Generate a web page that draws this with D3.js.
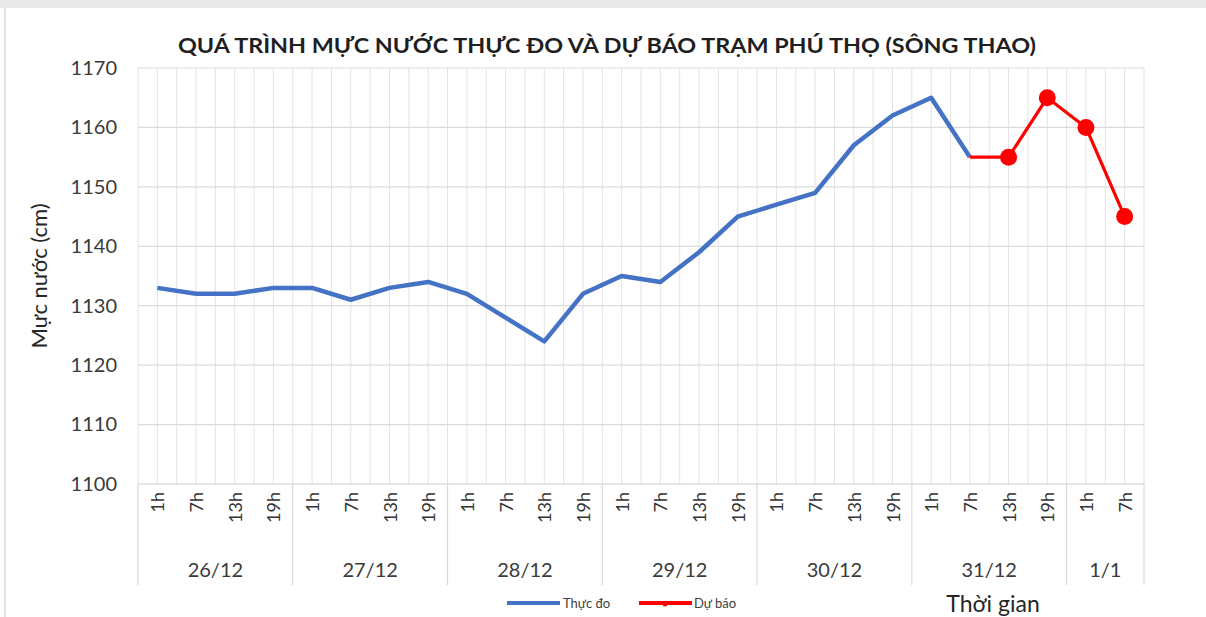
<!DOCTYPE html>
<html>
<head>
<meta charset="utf-8">
<script src="https://cdn.jsdelivr.net/npm/d3@7"></script>
<style>
  body { margin: 0; background: #fff; }
  svg { display: block; font-family: Lato, "Open Sans", sans-serif; }
</style>
</head>
<body>
<svg id="chart"></svg>
<script>
// data
var days = ["26/12", "27/12", "28/12", "29/12", "30/12", "31/12", "1/1"];
var hoursPerDay = [["1h", "7h", "13h", "19h"], ["1h", "7h", "13h", "19h"], ["1h", "7h", "13h", "19h"],
                   ["1h", "7h", "13h", "19h"], ["1h", "7h", "13h", "19h"], ["1h", "7h", "13h", "19h"], ["1h", "7h"]];
var observed = [1133, 1132, 1132, 1133, 1133, 1131, 1133, 1134, 1132, 1128, 1124, 1132,
                1135, 1134, 1139, 1145, 1147, 1149, 1157, 1162, 1165, 1155];
var forecastStart = 21; // 31/12 7h
var forecast = [1155, 1155, 1165, 1160, 1145];
var yTicks = [1100, 1110, 1120, 1130, 1140, 1150, 1160, 1170];

var W = 1206, H = 617;
var margin = {top: 68, left: 138, right: 62, bottom: 133};
var plotW = W - margin.left - margin.right;
var plotH = H - margin.top - margin.bottom;

// flat category list
var cats = [];
days.forEach(function (d, i) {
    hoursPerDay[i].forEach(function (h) { cats.push({day: d, hour: h, key: d + "-" + h}); });
});

var svg = d3.select("#chart").attr("width", W).attr("height", H);

// frame like the screenshot
svg.append("rect").attr("x", 0).attr("y", 0).attr("width", W).attr("height", 8).attr("fill", "#e9e9e9");
svg.append("line").attr("x1", 5).attr("x2", 5).attr("y1", 8).attr("y2", H).attr("stroke", "#e2e2e2").attr("stroke-width", 2);

var g = svg.append("g").attr("transform", "translate(" + margin.left + "," + margin.top + ")");

var x = d3.scaleBand().domain(cats.map(function (c) { return c.key; })).range([0, plotW]);
var y = d3.scaleLinear().domain([1100, 1170]).range([plotH, 0]);
var bw = x.bandwidth();

// vertical gridlines: category centres and boundaries
cats.forEach(function (c, i) {
    var xs = [x(c.key), x(c.key) + bw / 2];
    if (i === cats.length - 1) xs.push(x(c.key) + bw);
    xs.forEach(function (xv) {
        g.append("line").attr("x1", xv).attr("x2", xv).attr("y1", 0).attr("y2", plotH)
            .attr("stroke", "#e3e3e3").attr("stroke-width", 1);
    });
});

// horizontal gridlines
g.selectAll(".hgrid").data(yTicks).enter().append("line")
    .attr("x1", 0).attr("x2", plotW)
    .attr("y1", function (d) { return y(d); }).attr("y2", function (d) { return y(d); })
    .attr("stroke", function (d) { return d === 1100 ? "#cfcfcf" : "#dcdcdc"; })
    .attr("stroke-width", 1.2);

// y axis labels
var yAxis = g.append("g").call(d3.axisLeft(y).tickValues(yTicks).tickSize(0).tickPadding(21).tickFormat(d3.format("d")));
yAxis.select(".domain").remove();
yAxis.selectAll("text").attr("font-size", 20).attr("fill", "#3a3a3a").attr("font-family", "Lato, sans-serif");

g.append("text")
    .attr("transform", "translate(" + (38 - margin.left) + "," + (plotH / 2) + ") rotate(-90)")
    .attr("text-anchor", "middle").attr("dominant-baseline", "central")
    .attr("font-size", 22).attr("fill", "#262626")
    .text("Mực nước (cm)");

// multi-level category axis
var axisG = g.append("g").attr("transform", "translate(0," + plotH + ")");
cats.forEach(function (c) {
    axisG.append("text")
        .attr("transform", "translate(" + (x(c.key) + bw / 2) + ",8) rotate(-90)")
        .attr("text-anchor", "end").attr("dominant-baseline", "central")
        .attr("font-size", 18).attr("fill", "#333")
        .text(c.hour);
});
var startIdx = 0;
var bounds = [0];
days.forEach(function (d, i) {
    var n = hoursPerDay[i].length;
    var x0 = x(cats[startIdx].key);
    var x1 = x(cats[startIdx + n - 1].key) + bw;
    bounds.push(x1);
    axisG.append("text")
        .attr("x", (x0 + x1) / 2).attr("y", 93)
        .attr("text-anchor", "middle")
        .attr("font-size", 20).attr("fill", "#3a3a3a")
        .text(d);
    startIdx += n;
});
bounds.forEach(function (b) {
    axisG.append("line").attr("x1", b).attr("x2", b).attr("y1", 0).attr("y2", 101)
        .attr("stroke", "#d9d9d9").attr("stroke-width", 1.2);
});

// lines
var line = d3.line()
    .x(function (d) { return x(cats[d.i].key) + bw / 2; })
    .y(function (d) { return y(d.v); });

var obsPts = observed.map(function (v, i) { return {i: i, v: v}; });
var fcPts = forecast.map(function (v, i) { return {i: forecastStart + i, v: v}; });

g.append("path").datum(obsPts).attr("d", line)
    .attr("fill", "none").attr("stroke", "#4472c4").attr("stroke-width", 4.5)
    .attr("stroke-linejoin", "round");

g.append("path").datum(fcPts).attr("d", line)
    .attr("fill", "none").attr("stroke", "#ff0000").attr("stroke-width", 3.2)
    .attr("stroke-linejoin", "round");

g.selectAll(".fcDot").data(fcPts.slice(1)).enter().append("circle")
    .attr("cx", function (d) { return x(cats[d.i].key) + bw / 2; })
    .attr("cy", function (d) { return y(d.v); })
    .attr("r", 8.5).attr("fill", "#ff0000");

// title
svg.append("text")
    .attr("x", 607).attr("y", 53)
    .attr("text-anchor", "middle")
    .attr("font-size", 21).attr("font-weight", "bold").attr("fill", "#1f1f1f")
    .attr("textLength", 858).attr("lengthAdjust", "spacingAndGlyphs")
    .text("QUÁ TRÌNH MỰC NƯỚC THỰC ĐO VÀ DỰ BÁO TRẠM PHÚ THỌ (SÔNG THAO)");

// legend
var legend = svg.append("g");
legend.append("line").attr("x1", 507).attr("x2", 560).attr("y1", 603).attr("y2", 603)
    .attr("stroke", "#4472c4").attr("stroke-width", 4);
legend.append("text").attr("x", 563).attr("y", 608).attr("font-size", 13).attr("fill", "#404040").text("Thực đo");
legend.append("line").attr("x1", 639).attr("x2", 692).attr("y1", 603).attr("y2", 603)
    .attr("stroke", "#ff0000").attr("stroke-width", 4);
legend.append("circle").attr("cx", 665).attr("cy", 604).attr("r", 2.5).attr("fill", "#ff0000");
legend.append("text").attr("x", 694).attr("y", 608).attr("font-size", 13).attr("fill", "#404040").text("Dự báo");

svg.append("text")
    .attr("x", 993).attr("y", 612).attr("text-anchor", "middle")
    .attr("font-size", 23).attr("fill", "#262626")
    .text("Thời gian");
</script>
</body>
</html>
